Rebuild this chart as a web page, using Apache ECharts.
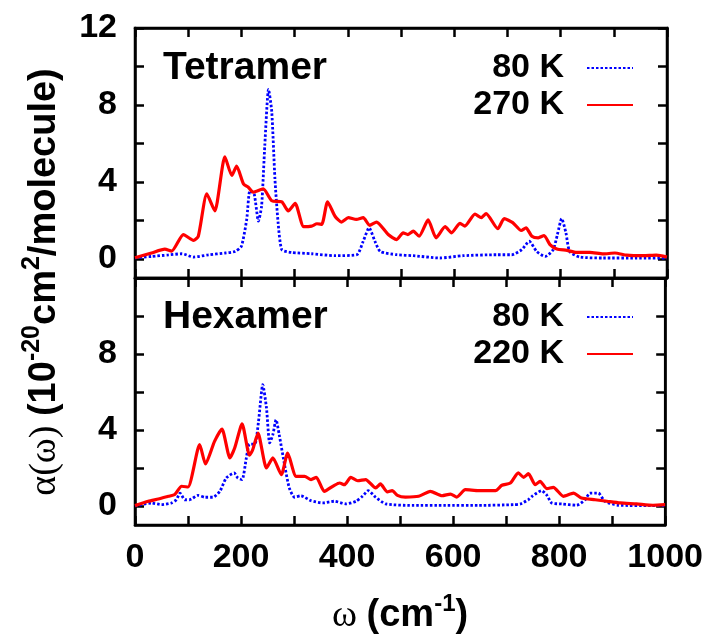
<!DOCTYPE html>
<html>
<head>
<meta charset="utf-8">
<script src="https://cdn.jsdelivr.net/npm/echarts@6/dist/echarts.min.js"></script>
<style>
body{margin:0;background:#fff}
#chart{width:706px;height:636px}
</style>
</head>
<body>
<div id="chart"></div>
<script>
// Tetramer, 80 K
var tetraW80 = [0,31,63,88,110,138,169,188,200,210,216,224,232,238,244,251,257,263,269,276,294,332,376,417,429,440,451,461,492,523,573,617,680,708,727,741,755,771,786,794,802,810,817,836,880,943,1000];
var tetraA80 = [0.05,0.12,0.2,0.26,0.09,0.2,0.3,0.38,0.65,2.05,3.54,3.37,1.96,2.75,5.91,8.81,7.67,4.16,1.88,0.47,0.33,0.26,0.16,0.21,0.91,1.61,0.91,0.38,0.21,0.16,0.04,0.16,0.21,0.21,0.47,0.91,0.38,0.12,0.47,1.26,2.09,1.35,0.38,0.09,0.04,0.04,0.04];
// Tetramer, 270 K
var tetraW270 = [0,31,56,69,91,110,119,135,150,169,182,191,204,213,222,241,257,276,288,301,317,332,342,351,362,376,388,401,416,429,441,454,476,492,504,513,523,534,551,566,583,595,611,620,639,651,660,682,694,710,726,735,746,758,769,780,793,812,830,855,880,902,924,955,980,1000];
var tetraA270 = [0.05,0.3,0.5,0.4,1.26,0.96,1.17,3.37,2.49,5.3,4.33,4.82,3.89,3.72,3.46,3.63,3.02,2.96,2.49,2.88,1.67,1.70,1.82,1.79,2.96,2.21,1.91,2.14,2.05,2.14,1.74,1.91,1.26,1.0,1.35,1.26,1.44,1.17,2.02,1.09,1.67,1.35,1.84,1.70,2.32,2.14,2.35,1.56,2.09,1.88,1.47,1.61,1.17,1.09,1.21,0.74,0.51,0.44,0.33,0.33,0.25,0.3,0.19,0.16,0.19,0.09];
// Hexamer, 80 K
var hexaW80 = [0,31,50,69,78,85,94,103,119,132,147,160,172,187,194,202,210,216,226,233,241,248,254,260,266,272,282,291,301,313,332,354,376,398,417,429,440,454,473,523,586,648,714,727,742,749,767,776,786,805,833,849,858,874,886,911,974,1000];
var hexaA80 = [0,0.16,0.07,0.16,0.33,0.68,0.33,0.33,0.56,0.46,0.46,0.77,1.47,1.74,1.47,1.39,2.53,3.26,3.26,4.46,6.39,5.16,3.32,3.75,4.54,3.75,2.18,0.95,0.46,0.54,0.28,0.16,0.25,0.11,0.25,0.51,0.81,0.46,0.11,0.03,0.03,0.03,0.07,0.11,0.33,0.51,0.81,0.6,0.16,0.11,0.04,0.33,0.68,0.68,0.25,0.04,0.02,0.02];
// Hexamer, 220 K
var hexaW220 = [0,25,44,63,75,88,100,122,133,150,164,179,188,202,216,222,232,248,260,276,288,304,320,332,342,357,376,386,395,407,420,435,454,463,476,485,495,510,535,557,579,595,607,623,648,680,692,708,723,733,742,755,764,777,789,808,827,842,868,890,915,946,977,1000];
var hexaA220 = [0.02,0.25,0.37,0.51,0.6,1.04,1.0,3.23,2.21,3.4,4.05,2.53,3.05,4.32,2.67,2.96,3.84,2.0,2.53,1.65,2.79,1.56,1.56,1.39,1.51,0.77,1.09,1.21,1.12,1.51,1.33,1.39,0.95,1.16,0.74,0.81,0.56,0.47,0.51,0.77,0.54,0.63,0.47,0.86,0.81,0.81,1.09,1.21,1.74,1.51,1.7,1.12,1.3,0.91,0.98,0.51,0.68,0.42,0.33,0.25,0.16,0.11,0.04,0.07];

var yTicks = [0,2,4,6,8,10,12];
var yLabelsTop = [0,4,8,12];
var yLabelsBottom = [0,4,8];

function zip(xs, ys){
	var out = [];
	for(var i=0;i<xs.length;i++){
		out.push([xs[i], ys[i]]);
	}
	return out;
}

function xAx(grid, pos, labels){
	return {
		type:'value', gridIndex:grid, position:pos, min:0, max:1000, interval:100,
		axisLine:{show:true, onZero:false, lineStyle:{color:'#000', width:2.5}},
		axisTick:{show:true, inside:true, length:9, lineStyle:{color:'#000', width:2.5}},
		axisLabel:{show:labels, margin:16, color:'#000', fontSize:34, fontWeight:'bold', fontFamily:'Liberation Sans',
			formatter:function(v){ return v % 200 === 0 ? String(v) : ''; }},
		splitLine:{show:false}
	};
}
function yAx(grid, pos, labelVals){
	return {
		type:'value', gridIndex:grid, position:pos, min:-1, max:12,
		axisLine:{show:true, onZero:false, lineStyle:{color:'#000', width:2.5}},
		axisTick:{show:true, inside:true, length:9, customValues:yTicks, lineStyle:{color:'#000', width:2.5}},
		axisLabel:{show:labelVals !== null, margin:18, customValues:labelVals || [], color:'#000', fontSize:34, fontWeight:'bold', fontFamily:'Liberation Sans'},
		splitLine:{show:false}
	};
}

var xBottom = xAx(1, 'bottom', true);
xBottom.name = '{w|ω }{b|(cm}{s|-1}{b|)}';
xBottom.nameLocation = 'middle';
xBottom.nameGap = 67;
xBottom.nameTextStyle = {
	color:'#000',
	rich:{
		w:{fontSize:38, fontFamily:'Liberation Serif', color:'#000', lineHeight:48},
		b:{fontSize:38, fontWeight:'bold', fontFamily:'Liberation Sans', color:'#000', lineHeight:48},
		s:{fontSize:24, fontWeight:'bold', fontFamily:'Liberation Sans', color:'#000', verticalAlign:'top', lineHeight:48}
	}
};

var blueLine = {color:'#0000ff', width:2.8, type:[2.5,2]};
var redLine = {color:'#ff0000', width:3.2};

var legendText = {color:'#000', fontSize:34, fontWeight:'bold', fontFamily:'Liberation Sans', padding:[0,18,0,0]};

var chart = echarts.init(document.getElementById('chart'));
var option = {
	animation:false,
	backgroundColor:'#fff',
	grid:[
		{left:135, right:39, top:28, height:250, show:true, borderColor:'#000', borderWidth:2.5, backgroundColor:'transparent'},
		{left:135, right:39, top:278, height:250, show:true, borderColor:'#000', borderWidth:2.5, backgroundColor:'transparent'}
	],
	xAxis:[xAx(0,'bottom',false), xAx(0,'top',false), xBottom, xAx(1,'top',false)],
	yAxis:[yAx(0,'left',yLabelsTop), yAx(0,'right',null), yAx(1,'left',yLabelsBottom), yAx(1,'right',null)],
	legend:[
		{data:['80 K','270 K'], orient:'vertical', align:'right', right:72, top:51, padding:0, itemGap:3, itemWidth:46, itemHeight:14,
			itemStyle:{opacity:0}, textStyle:legendText},
		{data:['80 K','220 K'], orient:'vertical', align:'right', right:72, top:300, padding:0, itemGap:3, itemWidth:46, itemHeight:14,
			itemStyle:{opacity:0}, textStyle:legendText}
	],
	graphic:[
		{type:'text', left:163, top:49, style:{text:'Tetramer', fill:'#000', font:'bold 39px "Liberation Sans"'}},
		{type:'text', left:163, top:298, style:{text:'Hexamer', fill:'#000', font:'bold 39px "Liberation Sans"'}},
		{type:'text', x:45, y:282, rotation:Math.PI/2, style:{
			text:'{w|α(ω) }{b|(10}{s|-20}{b|cm}{s|2}{b|/molecule)}',
			align:'center', verticalAlign:'middle', fill:'#000',
			rich:{
				w:{fontSize:38, fontFamily:'Liberation Serif', fill:'#000', lineHeight:50},
				b:{fontSize:38, fontWeight:'bold', fontFamily:'Liberation Sans', fill:'#000', lineHeight:50},
				s:{fontSize:25, fontWeight:'bold', fontFamily:'Liberation Sans', fill:'#000', verticalAlign:'top', lineHeight:50}
			}
		}}
	],
	series:[
		{name:'80 K', type:'line', xAxisIndex:0, yAxisIndex:0, symbol:'none', smooth:0.2, lineStyle:blueLine, itemStyle:{color:'#0000ff'}, data:zip(tetraW80, tetraA80)},
		{name:'270 K', type:'line', xAxisIndex:0, yAxisIndex:0, symbol:'none', smooth:0.2, lineStyle:redLine, itemStyle:{color:'#ff0000'}, data:zip(tetraW270, tetraA270)},
		{name:'80 K', type:'line', xAxisIndex:2, yAxisIndex:2, symbol:'none', smooth:0.2, lineStyle:blueLine, itemStyle:{color:'#0000ff'}, data:zip(hexaW80, hexaA80)},
		{name:'220 K', type:'line', xAxisIndex:2, yAxisIndex:2, symbol:'none', smooth:0.2, lineStyle:redLine, itemStyle:{color:'#ff0000'}, data:zip(hexaW220, hexaA220)}
	]
};
chart.setOption(option);
</script>
</body>
</html>
